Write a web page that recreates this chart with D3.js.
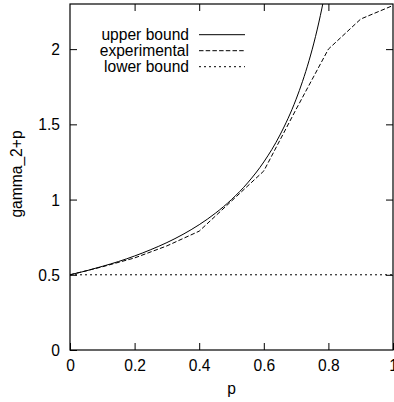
<!DOCTYPE html>
<html><head><meta charset="utf-8">
<script src="https://cdn.jsdelivr.net/npm/d3@7"></script>
<style>body{margin:0;background:#fff}svg{display:block}text{font-family:"Liberation Sans",Arial,sans-serif;fill:#000}</style>
</head><body><div id="chart"></div>
<script>
const xTicks=[0,0.2,0.4,0.6,0.8,1];
const xTickLabels=["0","0.2","0.4","0.6","0.8","1"];
const yTicks=[0,0.5,1,1.5,2];
const yTickLabels=["0","0.5","1","1.5","2"];
const seriesNames=["upper bound","experimental","lower bound"];
const upperP=[0,0.05,0.1,0.15,0.2,0.25,0.3,0.35,0.4,0.45,0.5,0.55,0.6,0.65,0.7,0.72,0.74,0.76,0.78,0.8];
const upperV=[0.5,0.526,0.556,0.588,0.625,0.667,0.714,0.769,0.833,0.909,1.0,1.111,1.25,1.429,1.667,1.786,1.923,2.083,2.273,2.5];
const expP=[0,0.1,0.2,0.3,0.4,0.5,0.6,0.7,0.8,0.9,1.0];
const expV=[0.5,0.553,0.612,0.692,0.79,0.99,1.19,1.6,2.0,2.2,2.29];
const lowerP=[0,1];
const lowerV=[0.5,0.5];

const W=394,H=402,L=70,R=393,T=4,B=350;
const svg=d3.select("#chart").append("svg").attr("width",W).attr("height",H);
const x=d3.scaleLinear().domain([0,1]).range([L,R]);
const y=d3.scaleLinear().domain([0,2.3]).range([B,T]);
const fs=15.6;

svg.append("defs").append("clipPath").attr("id","clip").append("rect")
  .attr("x",L).attr("y",T).attr("width",R-L).attr("height",B-T);

const tl=7;
const gx=svg.append("g").attr("transform",`translate(0,${B})`)
 .call(d3.axisBottom(x).tickValues(xTicks).tickSizeInner(-tl).tickSizeOuter(0).tickFormat((d,i)=>xTickLabels[i]));
gx.select(".domain").remove();
gx.selectAll("text").attr("font-size",fs).attr("dy",null).attr("y",20.7).style("font-family","Liberation Sans, Arial, sans-serif");
const gt=svg.append("g").attr("transform",`translate(0,${T})`)
 .call(d3.axisTop(x).tickValues(xTicks.slice(1,-1)).tickSizeInner(-tl).tickSizeOuter(0).tickFormat(""));
gt.select(".domain").remove();
const gy=svg.append("g").attr("transform",`translate(${L},0)`)
 .call(d3.axisLeft(y).tickValues(yTicks).tickSizeInner(-tl).tickSizeOuter(0).tickFormat((d,i)=>yTickLabels[i]));
gy.select(".domain").remove();
gy.selectAll("text").attr("font-size",fs).attr("x",-10).attr("dy","0.35em").style("font-family","Liberation Sans, Arial, sans-serif");
const gr=svg.append("g").attr("transform",`translate(${R},0)`)
 .call(d3.axisRight(y).tickValues(yTicks.slice(1)).tickSizeInner(-tl).tickSizeOuter(0).tickFormat(""));
gr.select(".domain").remove();
svg.selectAll(".tick line").attr("stroke","#000").attr("stroke-width",1);

svg.append("rect").attr("x",L).attr("y",T).attr("width",R-L).attr("height",B-T)
 .attr("fill","none").attr("stroke","#000").attr("stroke-width",1.2);

const plot=svg.append("g").attr("clip-path","url(#clip)");
const styles=[null,"4.5,2.2","2,3"];
const upper=upperP.map((p,i)=>[p,upperV[i]]);
const exp=expP.map((p,i)=>[p,expV[i]]);
const low=lowerP.map((p,i)=>[p,lowerV[i]]);
const straight=d3.line().x(d=>x(d[0])).y(d=>y(d[1]));
const smooth=d3.line().x(d=>x(d[0])).y(d=>y(d[1])).curve(d3.curveMonotoneX);
plot.append("path").attr("d",smooth(upper)).attr("fill","none").attr("stroke","#000").attr("stroke-width",1);
plot.append("path").attr("d",straight(exp)).attr("fill","none").attr("stroke","#000").attr("stroke-width",1).attr("stroke-dasharray",styles[1]);
plot.append("path").attr("d",straight(low)).attr("fill","none").attr("stroke","#000").attr("stroke-width",1).attr("stroke-dasharray",styles[2]);

const lg=svg.append("g");
seriesNames.forEach((n,i)=>{
  const yy=34.7+i*16;
  lg.append("text").attr("x",189).attr("y",yy+5.4).attr("text-anchor","end").attr("font-size",fs).text(n);
  const ln=lg.append("line").attr("x1",199).attr("x2",245).attr("y1",yy).attr("y2",yy).attr("stroke","#000").attr("stroke-width",1);
  if(styles[i]) ln.attr("stroke-dasharray",styles[i]);
});

svg.append("text").attr("x",(L+R)/2).attr("y",394).attr("text-anchor","middle").attr("font-size",fs).text("p");
svg.append("text").attr("transform",`translate(22,174) rotate(-90)`).attr("text-anchor","middle").attr("font-size",fs).text("gamma_2+p");
</script></body></html>
